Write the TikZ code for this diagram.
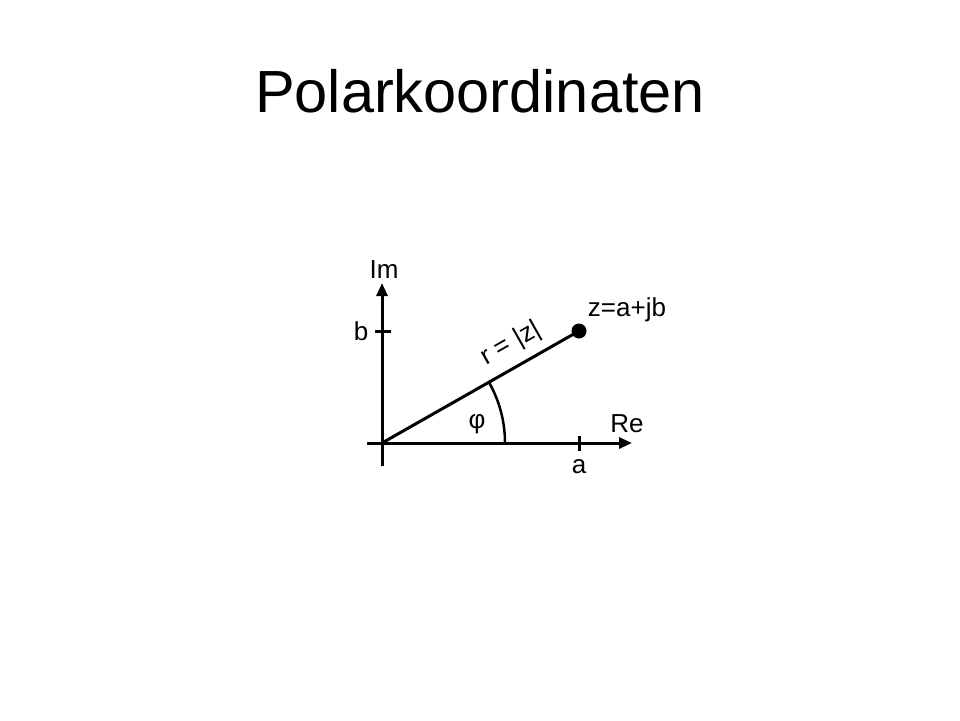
\documentclass[tikz,border=0pt]{standalone}
\usepackage{fontspec}
\setmainfont{Liberation Sans}
\usetikzlibrary{arrows.meta}
\begin{document}
\begin{tikzpicture}[x=1pt,y=-1pt,
  axis/.style={line width=3pt,-{Triangle[length=13pt,width=11pt]}},
  ln/.style={line width=3pt},
  lbl/.style={font=\fontsize{26}{30}\selectfont,inner sep=0pt}]
\useasboundingbox (0,0) rectangle (960,720);
\node[font=\fontsize{59.5}{70}\selectfont,inner sep=0pt,anchor=base] (title) at (480,112) {Polarkoordinaten};
\coordinate (O) at (382,443);
\coordinate (xl) at (367,443);
\coordinate (xr) at (632,443);
\coordinate (yb) at (382,466);
\coordinate (yt) at (382,283);
\draw[axis] (xl) -- (xr);
\draw[axis] (yb) -- (yt);
\coordinate (bt1) at (375,331);
\coordinate (bt2) at (391,331);
\draw[ln] (bt1) -- (bt2);
\coordinate (at1) at (579,436);
\coordinate (at2) at (579,451);
\draw[ln] (at1) -- (at2);
\node[circle,fill=black,minimum size=15pt,inner sep=0pt] (z) at (579,331) {};
\draw[ln] (O) -- (z.center);
\draw[line width=2.5pt] (O) ++(0:123) arc[start angle=0,end angle=-29.6,radius=123];
\node[lbl] (Im) at (384,270) {Im};
\node[lbl] (b) at (361,331) {b};
\node[lbl] (zl) at (627,310) {z=a+jb};
\node[lbl,rotate=29.6] (r) at (511,344) {r = |z|};
\node[lbl] (phi) at (477,424) {φ};
\node[lbl] (Re) at (627,424) {Re};
\node[lbl] (a) at (579,467) {a};
\end{tikzpicture}
\end{document}
